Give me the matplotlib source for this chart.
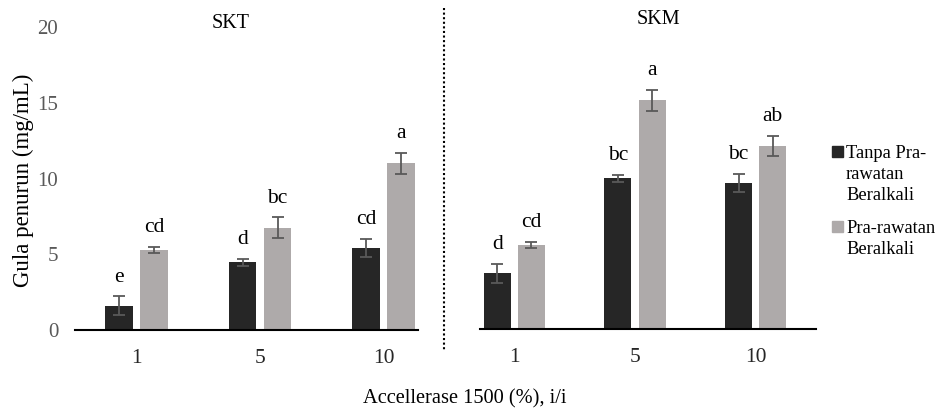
import matplotlib
matplotlib.use("Agg")
import matplotlib.pyplot as plt
from matplotlib.lines import Line2D
from matplotlib.patches import Rectangle
import numpy as np

plt.rcParams['font.family'] = ['Liberation Serif', 'DejaVu Serif']

categories = ["1", "5", "10"]
panels = ["SKT", "SKM"]
series_names = ["Tanpa Pra-\nrawatan\nBeralkali", "Pra-rawatan\nBeralkali"]

skt_tanpa = [1.6, 4.46, 5.43]
skt_tanpa_err = [0.62, 0.22, 0.59]
skt_pra = [5.27, 6.75, 11.01]
skt_pra_err = [0.2, 0.69, 0.69]

skm_tanpa = [3.67, 9.96, 9.65]
skm_tanpa_err = [0.63, 0.23, 0.6]
skm_pra = [5.54, 15.1, 12.09]
skm_pra_err = [0.21, 0.68, 0.68]

skt_letters_tanpa = ["e", "d", "cd"]
skt_letters_pra = ["cd", "bc", "a"]
skm_letters_tanpa = ["d", "bc", "bc"]
skm_letters_pra = ["cd", "a", "ab"]

yticks = [0, 5, 10, 15, 20]

colors = ["#262626", "#AEAAAA"]
err_color = "#595959"

W, H = 938, 411
fig = plt.figure(figsize=(W / 100, H / 100), dpi=100)

def fx(px):
    return px / W

def fy(py):
    return (H - py) / H

ax1 = fig.add_axes([fx(75), fy(330), fx(418) - fx(75), fy(27) - fy(330)])
ax2 = fig.add_axes([fx(480), fy(329), fx(816) - fx(480), fy(26) - fy(329)])

panel_data = [
    (ax1, skt_tanpa, skt_tanpa_err, skt_pra, skt_pra_err, skt_letters_tanpa, skt_letters_pra, (-0.496, 2.277)),
    (ax2, skm_tanpa, skm_tanpa_err, skm_pra, skm_pra_err, skm_letters_tanpa, skm_letters_pra, (-0.284, 2.5)),
]

x = np.arange(len(categories))
bw = 0.224
off = 0.1415

for i, (ax, t, te, p, pe, lt, lp, xl) in enumerate(panel_data):
    for vals, errs, letters, c, o in [(t, te, lt, colors[0], -off), (p, pe, lp, colors[1], off)]:
        ax.bar(x + o, vals, width=bw, color=c, edgecolor='none', zorder=2)
        ax.errorbar(x + o, vals, yerr=errs, fmt='none', ecolor=err_color,
                    elinewidth=1.3, capsize=4, capthick=1.3, zorder=3)
        for xi, v, e, lab in zip(x + o, vals, errs, letters):
            ax.annotate(lab, (xi, v + e), xytext=(0, 7), textcoords='offset points',
                        ha='center', va='bottom', fontsize=15.5, color='black')
    ax.set_ylim(0, 20)
    ax.set_xlim(*xl)
    ax.set_xticks(x)
    ax.set_xticklabels(categories, fontsize=15.5, color='#262626')
    ax.tick_params(axis='x', length=0, pad=14)
    ax.tick_params(axis='y', length=0, pad=12)
    for s in ['top', 'right', 'left']:
        ax.spines[s].set_visible(False)
    ax.spines['bottom'].set_color('black')
    ax.spines['bottom'].set_linewidth(1.5)
    if i == 0:
        ax.set_yticks(yticks)
        ax.set_yticklabels([str(v) for v in yticks], fontsize=15, color='#595959')
    else:
        ax.set_yticks([])
    ax.patch.set_alpha(0)

fig.text(fx(230.7), fy(23), panels[0], ha='center', va='center', fontsize=14.5)
fig.text(fx(658), fy(20), panels[1], ha='center', va='center', fontsize=14.5)

fig.add_artist(Line2D([fx(444), fx(444)], [fy(8), fy(350)], color='black',
                      linestyle=(0, (1, 1.2)), linewidth=1.5))

fig.text(fx(23), fy(180), "Gula penurun (mg/mL)", rotation=90, ha='center', va='center', fontsize=16.5)
fig.text(fx(465), fy(399), "Accellerase 1500 (%), i/i", ha='center', va='center', fontsize=14.7)

# legend
leg_y = [151, 226]
for name, c, yy in zip(series_names, colors, leg_y):
    fig.add_artist(Rectangle((fx(832), fy(yy + 6)), fx(11), fy(0) - fy(11),
                             transform=fig.transFigure, color=c))
    fig.text(fx(846), fy(yy - 6), name, ha='left', va='top', fontsize=13.3,
             linespacing=1.3, transform=fig.transFigure)

fig.savefig("out.png", dpi=100)
